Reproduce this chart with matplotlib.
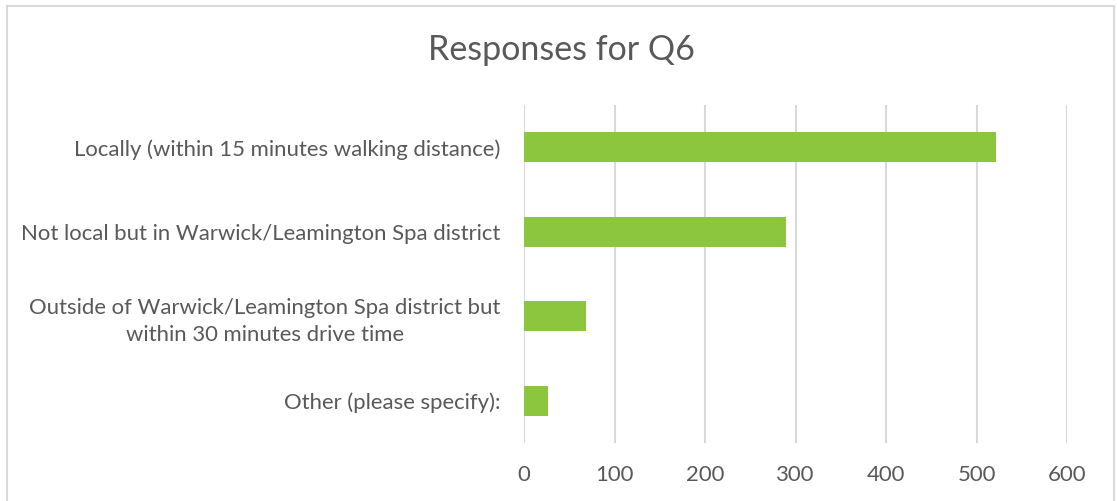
import matplotlib
matplotlib.use("Agg")
import matplotlib.pyplot as plt
from matplotlib.patches import Rectangle

categories = [
    "Locally (within 15 minutes walking distance)",
    "Not local but in Warwick/Leamington Spa district",
    "Outside of Warwick/Leamington Spa district but\nwithin 30 minutes drive time",
    "Other (please specify):",
]
values = [521, 290, 68, 26]
xticks = [0, 100, 200, 300, 400, 500, 600]
title = "Responses for Q6"

plt.rcParams['font.family'] = ['Lato', 'DejaVu Sans']
W, H = 1117, 501
fig = plt.figure(figsize=(W / 100, H / 100), dpi=100)
fig.patch.set_facecolor('white')

# outer chart border
fig.add_artist(Rectangle((7 / W, -0.05), (1114 - 7) / W, (1 - 6 / H) + 0.05,
                         transform=fig.transFigure, fill=False,
                         edgecolor='#D9D9D9', linewidth=1.5))

ax = fig.add_axes([524 / W, 1 - 443 / H, (1067 - 524) / W, (443 - 105) / H])
ypos = list(range(len(categories)))
ax.barh(ypos, values, height=0.35, color='#8CC63F', zorder=3)
ax.set_ylim(len(categories) - 0.5, -0.5)
ax.set_xlim(0, 600)
ax.set_xticks(xticks)
ax.set_xticklabels([str(t) for t in xticks])
ax.set_yticks(ypos)
ax.set_yticklabels(categories, linespacing=1.45)
for lbl in ax.get_yticklabels():
    lbl.set_multialignment('center')
for s in ax.spines.values():
    s.set_visible(False)
ax.grid(axis='x', color='#D9D9D9', linewidth=1.5, zorder=0)
ax.tick_params(axis='both', length=0, labelsize=15.9, colors='#595959')
ax.tick_params(axis='x', pad=16)
ax.tick_params(axis='y', pad=17)
fig.text(561 / W, 1 - 50 / H, title, ha='center', va='center',
         fontsize=24.5, color='#595959')

fig.savefig('out.png', dpi=100)
